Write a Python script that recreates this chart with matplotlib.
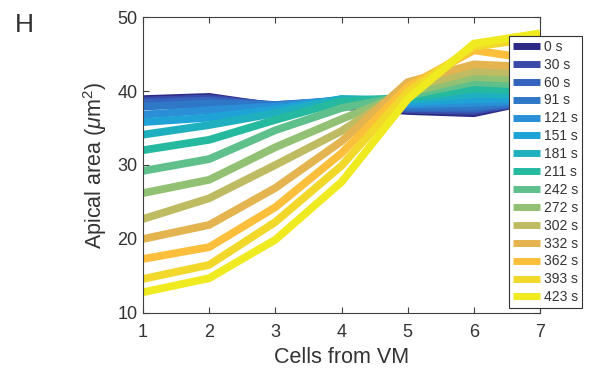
import numpy as np
import matplotlib
matplotlib.use('Agg')
import matplotlib.pyplot as plt

plt.rcParams['font.family'] = ['Liberation Sans', 'DejaVu Sans']
plt.rcParams['mathtext.fontset'] = 'custom'
plt.rcParams['mathtext.rm'] = 'Liberation Sans'
plt.rcParams['mathtext.it'] = 'Liberation Sans:italic'

# Клетки от VM
cells = [1, 2, 3, 4, 5, 6, 7]

# Подписи времени
times = ['0 s', '30 s', '60 s', '91 s', '121 s', '151 s', '181 s', '211 s',
         '242 s', '272 s', '302 s', '332 s', '362 s', '393 s', '423 s']

# Апикальная площадь, по строке на каждый момент времени
area_0 = [38.9, 39.2, 37.9, 38.0, 37.3, 37.0, 38.9]
area_30 = [38.7, 39.0, 38.0, 38.4, 37.5, 37.3, 38.8]
area_60 = [38.4, 38.7, 38.1, 38.6, 37.7, 37.6, 38.7]
area_91 = [37.9, 38.3, 38.1, 38.7, 37.9, 37.9, 38.7]
area_121 = [36.8, 37.4, 37.9, 38.8, 38.2, 38.4, 38.8]
area_151 = [35.8, 36.4, 37.5, 38.9, 38.5, 38.9, 39.0]
area_181 = [34.1, 35.4, 37.0, 38.9, 38.8, 39.6, 39.5]
area_211 = [32.0, 33.4, 36.1, 38.6, 39.1, 40.3, 40.0]
area_242 = [29.2, 30.8, 34.7, 37.7, 39.4, 41.2, 40.7]
area_272 = [26.2, 28.0, 32.4, 36.2, 39.8, 41.9, 41.5]
area_302 = [22.7, 25.5, 30.0, 34.6, 40.4, 42.7, 42.3]
area_332 = [20.0, 21.9, 26.9, 33.2, 41.2, 43.6, 43.2]
area_362 = [17.3, 18.9, 24.3, 31.6, 40.6, 45.5, 44.2]
area_393 = [14.6, 16.5, 22.3, 29.9, 39.9, 46.0, 47.2]
area_423 = [12.8, 14.7, 19.9, 27.7, 38.9, 46.4, 47.8]

areas = [area_0, area_30, area_60, area_91, area_121, area_151, area_181,
         area_211, area_242, area_272, area_302, area_332, area_362,
         area_393, area_423]

# Цвета (parula)
colors = ['#2d2a85', '#3a4aa8', '#3464bd', '#2f78c7', '#2a8fd6', '#1fa3d6',
          '#1fb0bf', '#25b99f', '#5fc08c', '#93c173', '#bfbb63', '#e3b44f',
          '#fcbf3b', '#f2d82a', '#f0ea20']

fig = plt.figure(figsize=(5.9, 3.69), dpi=100)
ax = fig.add_axes([0.2424, 0.1518, 0.6729, 0.8021])

for y, c, lab in zip(areas, colors, times):
    ax.plot(cells, y, color=c, linewidth=5.6, label=lab,
            solid_joinstyle='miter', solid_capstyle='butt')

ax.set_xlim(1, 7)
ax.set_ylim(10, 50)
ax.set_xticks(cells)
ax.set_yticks([10, 20, 30, 40, 50])

txt = '#333333'
for s in ax.spines.values():
    s.set_color('#404040')
    s.set_linewidth(0.8)
ax.tick_params(direction='in', length=4, width=0.8, color='#404040',
               labelsize=13, labelcolor=txt, top=True, right=True)
ax.tick_params(axis='x', pad=8)
ax.tick_params(axis='y', pad=4)

ax.set_xlabel('Cells from VM', fontsize=15.5, color=txt, labelpad=4)
ax.set_ylabel(r'Apical area ($\mu$m$^2$)', fontsize=15.5, color=txt, labelpad=6)

leg = ax.legend(loc='upper left', bbox_to_anchor=(0.922, 0.937), borderaxespad=0,
                fontsize=10, frameon=True, fancybox=False, framealpha=1,
                handlelength=1.95, handletextpad=0.25, borderpad=0.3,
                labelspacing=0.28)
leg.get_frame().set_edgecolor('#333333')
leg.get_frame().set_linewidth(0.8)
for t in leg.get_texts():
    t.set_color(txt)
for h in leg.get_lines():
    h.set_linewidth(5.0)
leg.set_zorder(5)

fig.text(0.025, 0.965, 'H', fontsize=19, color=txt, va='top', ha='left')

fig.savefig('out.png', dpi=100)
plt.close(fig)
